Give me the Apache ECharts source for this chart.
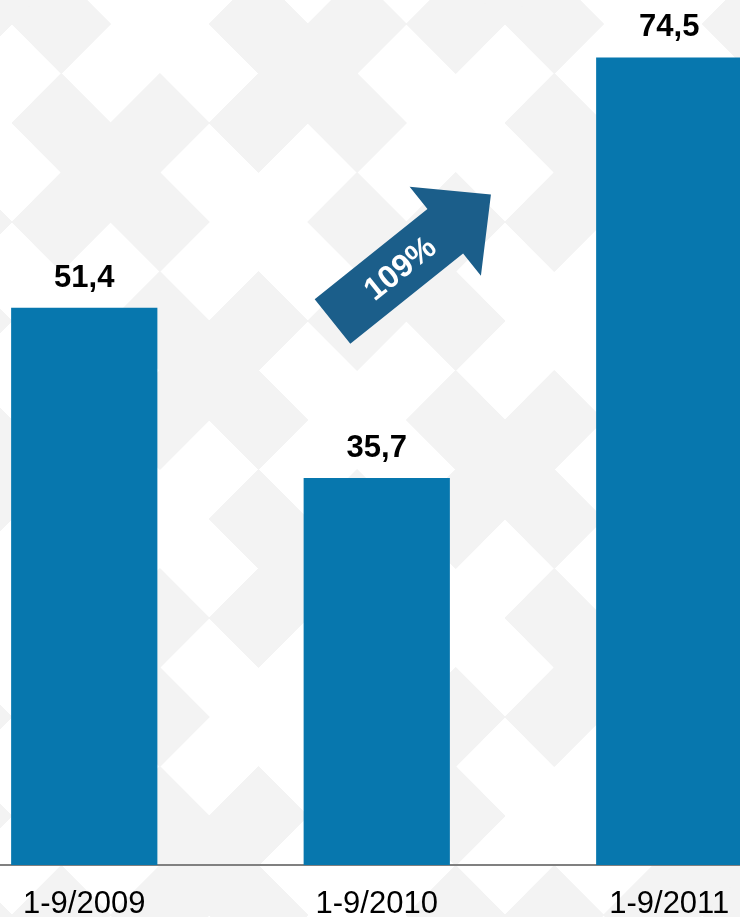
<!DOCTYPE html>
<html>
<head>
<meta charset="utf-8">
<script src="https://cdn.jsdelivr.net/npm/echarts@6/dist/echarts.min.js"></script>
<style>
  html, body { margin: 0; padding: 0; background: #fff; }
  #main-chart { width: 740px; height: 917px; }
</style>
</head>
<body>
<div id="main-chart"></div>
<script>
(function() {

  var periods = ['1-9/2009', '1-9/2010', '1-9/2011'];
  var values = [51.4, 35.7, 74.5];
  var growthText = '109%';

  var chartDom = document.getElementById('main-chart');
  var chart = echarts.init(chartDom);

  // 背景菱形花紋 (X 形拼接)
  function buildPattern() {
    var hx = 49.3, hy = 49.5;
    var cx0 = 505, cy0 = 469.5;
    var offsets = { 0: [0, 0], 1: [0, 1], 2: [1, 0], 3: [-1, 0], 4: [0, -1] };
    var list = [];
    for (var u = -25; u <= 25; u++) {
      for (var v = -25; v <= 25; v++) {
        var cx = cx0 + (u + v) * hx;
        var cy = cy0 + (u - v) * hy;
        if (cx < -hx || cx > 740 + hx || cy < -hy || cy > 917 + hy) continue;
        var r = (((2 * u + v) % 5) + 5) % 5;
        var uc = u - offsets[r][0];
        var vc = v - offsets[r][1];
        var parity = (((uc + 3 * vc) / 5) % 2 + 2) % 2;
        if (parity !== 0) continue;
        list.push({
          type: 'polygon',
          silent: true,
          z: -10,
          shape: { points: [[cx - hx, cy], [cx, cy - hy], [cx + hx, cy], [cx, cy + hy]] },
          style: { fill: '#f3f3f3', stroke: '#f3f3f3', lineWidth: 1 }
        });
      }
    }
    return list;
  }

  // 成長箭頭
  function buildArrow() {
    var len = 203, headLen = 58.5, shaftW = 28.5, headW = 57;
    return {
      type: 'group',
      x: 332.5,
      y: 321.5,
      rotation: 38.7 * Math.PI / 180,
      z: 100,
      children: [
        {
          type: 'polygon',
          shape: {
            points: [
              [0, -shaftW], [len - headLen, -shaftW], [len - headLen, -headW],
              [len, 0], [len - headLen, headW], [len - headLen, shaftW], [0, shaftW]
            ]
          },
          style: { fill: '#1b5e8a' }
        },
        {
          type: 'text',
          x: 86,
          y: 2,
          style: {
            text: growthText,
            fill: '#ffffff',
            font: 'bold 32px "Liberation Sans", Arial, sans-serif',
            align: 'center',
            verticalAlign: 'middle'
          }
        }
      ]
    };
  }

  var elements = buildPattern();
  elements.push(buildArrow());

  var option = {
    backgroundColor: '#ffffff',
    animation: false,
    grid: {
      left: -62,
      right: -75.5,
      top: 0,
      bottom: 52,
      containLabel: false,
      outerBoundsMode: 'none'
    },
    xAxis: {
      type: 'category',
      data: periods,
      axisTick: { show: false },
      axisLine: { lineStyle: { color: '#808080', width: 2 } },
      axisLabel: {
        color: '#000000',
        fontSize: 31,
        fontFamily: '"Liberation Sans", Arial, sans-serif',
        margin: 24,
        interval: 0
      }
    },
    yAxis: {
      type: 'value',
      min: 0,
      max: 79.8,
      show: false,
      splitLine: { show: false }
    },
    series: [{
      type: 'bar',
      data: values,
      barWidth: '50%',
      itemStyle: { color: '#0777ae' },
      label: {
        show: true,
        position: 'top',
        distance: 14,
        color: '#000000',
        fontSize: 31,
        fontWeight: 'bold',
        fontFamily: '"Liberation Sans", Arial, sans-serif',
        formatter: function(p) { return String(p.value).replace('.', ','); }
      }
    }],
    graphic: { elements: elements }
  };

  chart.setOption(option);

})();
</script>
</body>
</html>
